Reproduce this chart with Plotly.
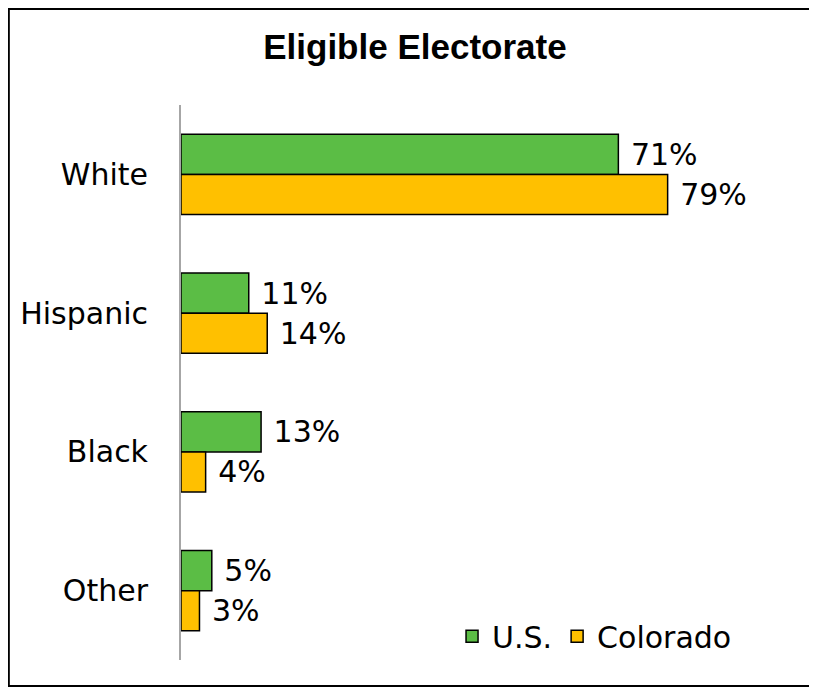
import plotly.graph_objects as go

# data
groups = ["White", "Hispanic", "Black", "Other"]
us_share = [71, 11, 13, 5]
colorado_share = [79, 14, 4, 3]

font_family = "DejaVu Sans, Lato, sans-serif"

fig = go.Figure()
fig.add_trace(go.Bar(
    y=groups, x=us_share, name="U.S.", orientation="h",
    marker=dict(color="#5BBD45", line=dict(color="black", width=1.5)),
    text=[" %d%%" % v for v in us_share], textposition="outside",
    textfont=dict(size=30, color="black", family=font_family),
    cliponaxis=False,
))
fig.add_trace(go.Bar(
    y=groups, x=colorado_share, name="Colorado", orientation="h",
    marker=dict(color="#FFC000", line=dict(color="black", width=1.5)),
    text=[" %d%%" % v for v in colorado_share], textposition="outside",
    textfont=dict(size=30, color="black", family=font_family),
    cliponaxis=False,
))

# the page adds an 8px body margin, so the figure is 8px smaller than the window
fig.update_layout(
    width=809, height=680,
    margin=dict(l=173, r=20, t=97, b=28, autoexpand=False),
    paper_bgcolor="white", plot_bgcolor="white",
    barmode="group", bargap=0.42, bargroupgap=0,
    title=dict(text="<b>Eligible Electorate</b>", x=0.503, xanchor="center",
               y=0.943, yanchor="middle",
               font=dict(family="Arial, Liberation Sans, sans-serif", size=35, color="black")),
    font=dict(family=font_family, size=30, color="black"),
    xaxis=dict(range=[0, 100], visible=False, automargin=False),
    yaxis=dict(autorange="reversed", showline=True, linecolor="#A6A6A6", linewidth=2,
               ticks="", showgrid=False, ticklabelstandoff=25, automargin=False,
               tickfont=dict(size=30, family=font_family)),
    legend=dict(orientation="h", x=0.44, xanchor="left", y=0.043, yanchor="middle",
                font=dict(size=30, family=font_family), itemwidth=30,
                traceorder="normal", bgcolor="rgba(0,0,0,0)"),
    showlegend=True,
    shapes=[dict(type="rect", xref="paper", yref="paper",
                 x0=-0.2795, x1=1.030, y0=-0.0468, y1=1.173,
                 line=dict(color="black", width=2), fillcolor="rgba(0,0,0,0)")],
)

fig.write_html("out.html")
